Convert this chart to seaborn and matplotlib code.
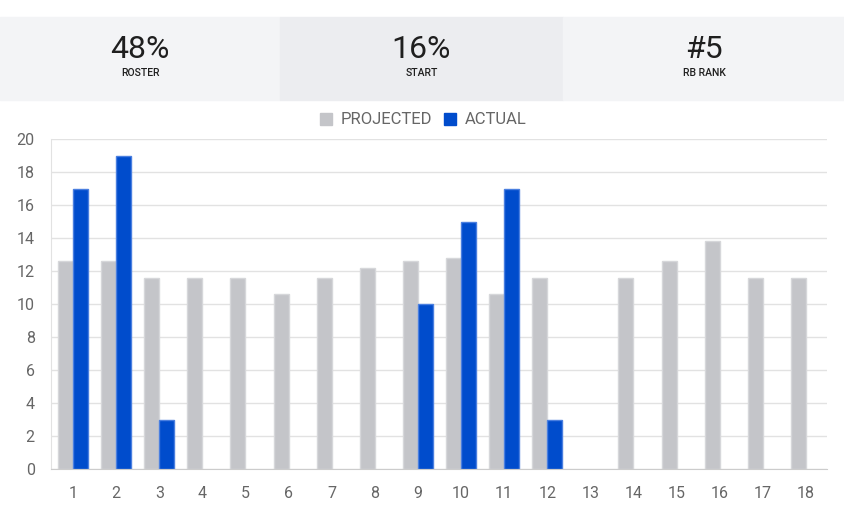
import matplotlib
matplotlib.use("Agg")
import matplotlib.pyplot as plt
import seaborn as sns
import pandas as pd
from matplotlib.patches import Rectangle

weeks = list(range(1, 19))
projected = [12.6, 12.6, 11.6, 11.6, 11.6, 10.6, 11.6, 12.2, 12.6, 12.8, 10.6, 11.6, 0, 11.6, 12.6, 13.8, 11.6, 11.6]
actual = [17, 19, 3, 0, 0, 0, 0, 0, 10, 15, 17, 3, 0, 0, 0, 0, 0, 0]
stat_values = ["48%", "16%", "#5"]
stat_labels = ["ROSTER", "START", "RB RANK"]

data = pd.DataFrame({
    "Week": weeks * 2,
    "Points": projected + actual,
    "Type": ["PROJECTED"] * len(weeks) + ["ACTUAL"] * len(weeks),
})

sns.set_style("white")
plt.rcParams["font.family"] = ["Roboto", "DejaVu Sans"]

W, H = 845, 518
fig = plt.figure(figsize=(W / 100, H / 100), dpi=100)

# header stat panels
panel_edges = [0, 280, 563, 845]
panel_colors = ["#f3f4f6", "#ecedf0", "#f3f4f6"]
for i in range(3):
    x0, x1 = panel_edges[i], panel_edges[i + 1]
    fig.add_artist(Rectangle((x0 / W, 1 - 100 / H), (x1 - x0) / W, 83 / H,
                             transform=fig.transFigure, color=panel_colors[i], zorder=0))
    cx = (x0 + x1) / 2 / W
    fig.text(cx, 1 - 50 / H, stat_values[i], ha="center", va="center", fontsize=23,
             color="#1f1f1f")
    fig.text(cx, 1 - 73 / H, stat_labels[i], ha="center", va="center", fontsize=7.5,
             color="#1f1f1f", fontweight="medium")

ax = fig.add_axes([51.5 / W, 49 / H, 776 / W, 330 / H])
sns.barplot(data=data, x="Week", y="Points", hue="Type", palette=["#c4c5c9", "#004ccc"],
            saturation=1, width=0.7, gap=0, errorbar=None, ax=ax, legend=False)
for patch in ax.patches:
    fc = patch.get_facecolor()
    if patch.get_height() == 0:
        patch.set_linewidth(0)
        continue
    if fc[2] > 0.7 and fc[0] < 0.2:
        patch.set_edgecolor("#4a7fe0")
    else:
        patch.set_edgecolor("#d6d7da")
    patch.set_linewidth(1)

ax.set_ylim(0, 20)
ax.set_yticks(range(0, 21, 2))
ax.set_xlabel("")
ax.set_ylabel("")
ax.grid(axis="y", color="#e2e2e2", linewidth=1)
ax.set_axisbelow(True)
for s in ["top", "right"]:
    ax.spines[s].set_visible(False)
ax.spines["left"].set_color("#e2e2e2")
ax.spines["bottom"].set_color("#cccccc")
ax.tick_params(axis="y", length=10, color="#e2e2e2", labelsize=11.5, labelcolor="#666666", pad=2)
ax.tick_params(axis="x", length=0, labelsize=11.5, labelcolor="#666666", pad=12)

# legend
fig.add_artist(Rectangle((320 / W, 1 - 125 / H), 12 / W, 12 / H, transform=fig.transFigure, color="#c4c5c9"))
fig.text(341 / W, 1 - 119 / H, "PROJECTED", va="center", fontsize=12, color="#666666")
fig.add_artist(Rectangle((444 / W, 1 - 125 / H), 12 / W, 12 / H, transform=fig.transFigure, color="#004ccc"))
fig.text(465 / W, 1 - 119 / H, "ACTUAL", va="center", fontsize=12, color="#666666")

fig.savefig("out.png", dpi=100)
